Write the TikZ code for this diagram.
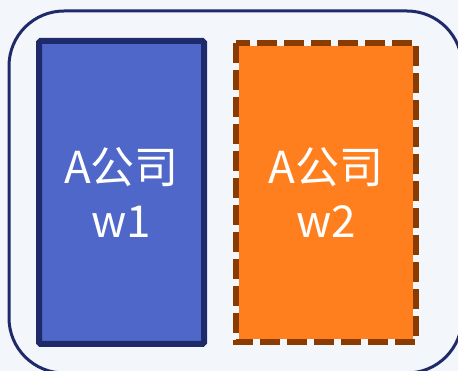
\documentclass[tikz,border=0pt]{standalone}
\usepackage{fontspec}
\usepackage{xcolor}
\usepackage{tikz}
\usetikzlibrary{calc,positioning}
\newfontfamily\cjk{Noto Sans CJK SC}
\definecolor{FrameNavy}{HTML}{1F2A6B}
\definecolor{PanelBack}{HTML}{F3F7FC}
\definecolor{BoxBlue}{HTML}{4F67C8}
\definecolor{BoxOrange}{HTML}{FF7F1F}
\definecolor{EdgeBrown}{HTML}{8A3B00}
\tikzset{
  wordbox/.style={align=center,text=white,font=\cjk\fontsize{44}{54}\selectfont,inner sep=0pt},
  bluebox/.style={wordbox,fill=BoxBlue,draw=FrameNavy,line width=6pt,rounded corners=1.5pt,
    minimum width=165pt,minimum height=303pt},
  orangebox/.style={wordbox,fill=BoxOrange,minimum width=174pt,minimum height=293pt},
  brownedge/.style={draw=EdgeBrown,line width=6pt,dash pattern=on 20pt off 7pt}
}

\begin{document}
\begin{tikzpicture}[x=1pt,y=-1pt]
  \useasboundingbox (0,0) rectangle (458,371);
  \clip (0,0) rectangle (458,371);
  \fill[PanelBack] (0,0) rectangle (458,371);
  \draw[FrameNavy,line width=3pt,rounded corners=55pt] (9,11) rectangle (462,373);
  % company boxes
  \node[bluebox] (w1) at (121.5,192.5) {A公司\\w1};
  \node[orangebox] (w2) at (326,192.5) {A公司\\w2};
  \draw[brownedge] ([xshift=-3pt,yshift=3pt]w2.north west) rectangle ([xshift=3pt,yshift=-3pt]w2.south east);
\end{tikzpicture}
\end{document}
